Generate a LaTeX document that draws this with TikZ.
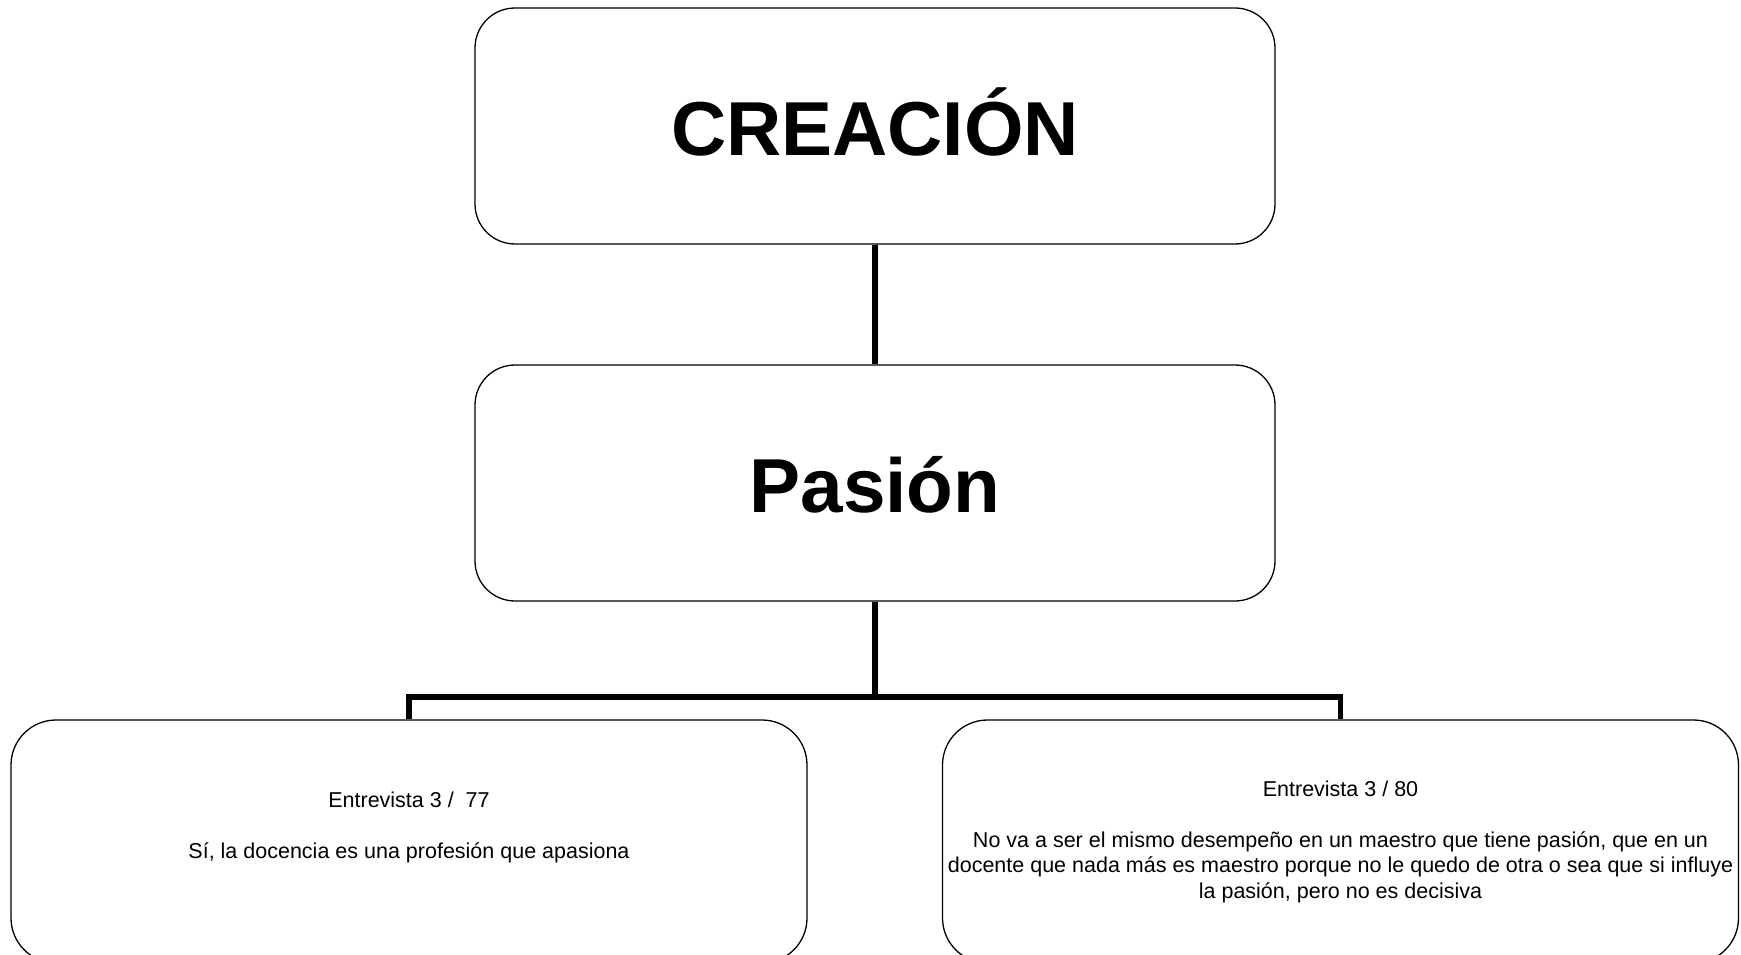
\documentclass[tikz,border=0pt]{standalone}
\usepackage{fontspec}
\setmainfont{Liberation Sans}
\begin{document}
\begin{tikzpicture}[x=1pt,y=-1pt,
  box/.style={draw=black, line width=1.3pt, rounded corners=40pt, fill=white},
  bigbox/.style={box, minimum width=800pt, minimum height=236pt, font=\fontsize{76.5}{90}\selectfont\bfseries, text height=59pt, text depth=0pt},
  leafbox/.style={box, rounded corners=45pt, minimum width=796pt, minimum height=243pt, align=center, font=\fontsize{21.5}{25.5}\selectfont},
  conn/.style={draw=black, line width=5.5pt}]
\useasboundingbox (0,0) rectangle (1741,955);
\fill[white] (0,0) rectangle (1741,955);
\clip (0,0) rectangle (1741,955);
\node[bigbox] (top) at (875,126) {CREACIÓN};
\node[bigbox] (pas) at (875,483) {Pasión};
\node[leafbox] (left) at (409,841.5) {Entrevista 3 /~~77\\[25.5pt]Sí, la docencia es una profesión que apasiona\\ \strut};
\node[leafbox] (right) at (1340.5,841.5) {Entrevista 3 / 80\\[25.5pt]No va a ser el mismo desempeño en un maestro que tiene pasión, que en un\\docente que nada más es maestro porque no le quedo de otra o sea que si influye\\la pasión, pero no es decisiva};
\coordinate (bar) at (875,697);
\draw[conn] (top) -- (pas);
\draw[conn] (pas.south) -- (pas.south |- bar);
\draw[conn, line join=miter] (left.north) -- (left.north |- bar) -- (right.north |- bar) -- (right.north);
\end{tikzpicture}
\end{document}
